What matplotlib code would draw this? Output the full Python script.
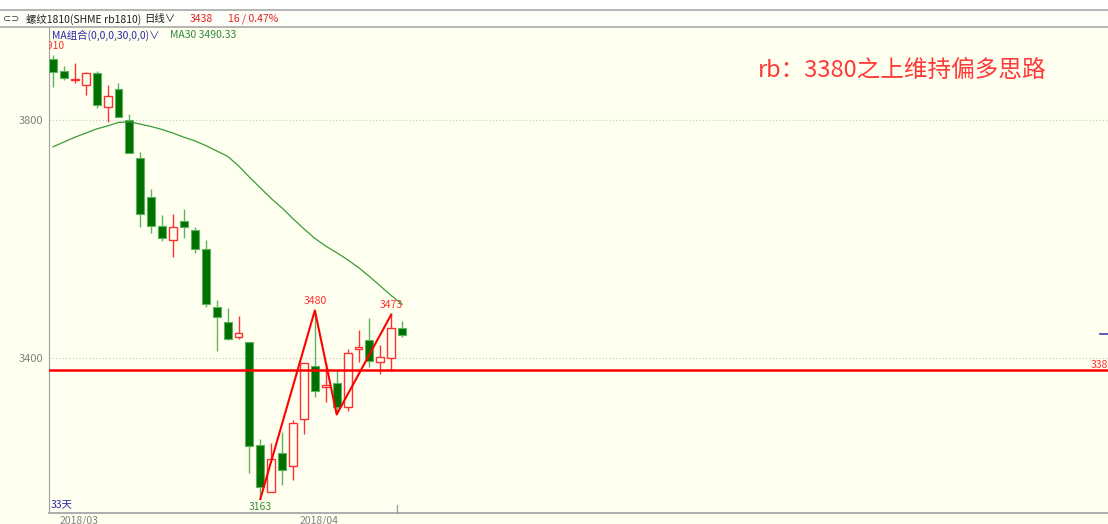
import numpy as np
import matplotlib.pyplot as plt
from matplotlib.patches import Rectangle
from matplotlib.lines import Line2D

# ─── DATA ────────────────────────────────────────────────────
opens  = [3902, 3882, 3867, 3859, 3879, 3822, 3852, 3800, 3736, 3671, 3622,
          3598, 3630, 3615, 3583, 3486, 3460, 3435, 3427, 3254, 3175, 3240,
          3218, 3297, 3386, 3351, 3358, 3318, 3415, 3430, 3393, 3400, 3450]
closes = [3881, 3871, 3869, 3879, 3825, 3840, 3805, 3744, 3642, 3622, 3602,
          3620, 3620, 3583, 3491, 3469, 3432, 3442, 3252, 3183, 3230, 3212,
          3291, 3392, 3344, 3355, 3318, 3408, 3418, 3395, 3402, 3450, 3438]
highs  = [3910, 3891, 3896, 3880, 3882, 3859, 3862, 3810, 3746, 3684, 3640,
          3642, 3650, 3620, 3598, 3497, 3484, 3471, 3427, 3264, 3257, 3276,
          3296, 3392, 3480, 3392, 3380, 3415, 3447, 3467, 3422, 3473, 3462]
lows   = [3856, 3867, 3862, 3842, 3820, 3797, 3805, 3744, 3620, 3610, 3597,
          3570, 3602, 3576, 3486, 3412, 3430, 3432, 3207, 3163, 3175, 3187,
          3195, 3272, 3334, 3326, 3310, 3311, 3393, 3385, 3373, 3378, 3435]
ma30   = [3755, 3763, 3771, 3778, 3785, 3790, 3796, 3797, 3793, 3789, 3784,
          3778, 3771, 3765, 3757, 3748, 3739, 3723, 3704, 3686, 3668, 3652,
          3634, 3617, 3601, 3588, 3577, 3565, 3552, 3537, 3521, 3505, 3490.33]

zz_idx = [19, 24, 26, 31]
zz_val = [3163, 3480, 3305, 3473]

support = 3380
y_ticks = [3400, 3800]

# ─── STYLE ───────────────────────────────────────────────────
plt.rcParams['font.family'] = ['Noto Sans CJK SC', 'DejaVu Sans']

W, H = 1108, 524
BG = '#FFFFF0'
UP = '#FF3030'
DN_FACE = '#007000'
DN_EDGE = '#5DB35D'
GRID = '#C8C8C8'

def fx(x):
    return x / W

def fy(y):
    return 1 - y / H

fig = plt.figure(figsize=(W / 100, H / 100), dpi=100)
fig.patch.set_facecolor(BG)

# header bands
fig.patches.append(Rectangle((0, fy(10)), 1, 1 - fy(10), transform=fig.transFigure,
                             facecolor='white', edgecolor='none', zorder=0))
fig.patches.append(Rectangle((0, fy(27)), 1, fy(10) - fy(27), transform=fig.transFigure,
                             facecolor='#FEFEF8', edgecolor='none', zorder=0))
for yy in (10, 27):
    fig.add_artist(Line2D([0, 1], [fy(yy), fy(yy)], transform=fig.transFigure,
                          color='#A8A8A8', lw=1.2))

ax = fig.add_axes([fx(49), fy(513), 1 - fx(49), fy(27) - fy(513)])
ax.set_facecolor(BG)

x = np.arange(len(opens))
o = np.array(opens); c = np.array(closes)
hi = np.array(highs); lo = np.array(lows)
up = c >= o

# wicks
ax.vlines(x[up], lo[up], hi[up], color=UP, lw=1, zorder=2)
ax.vlines(x[~up], lo[~up], hi[~up], color=DN_EDGE, lw=1, zorder=2)
# bodies
bw = 0.72
ax.bar(x[up], np.maximum(c[up] - o[up], 1.5), bottom=o[up], width=bw,
       facecolor=BG, edgecolor=UP, lw=1, zorder=3)
ax.bar(x[~up], o[~up] - c[~up], bottom=c[~up], width=bw,
       facecolor=DN_FACE, edgecolor=DN_EDGE, lw=0.8, zorder=3)

# MA30
ax.plot(x, ma30, color='#3A9A3A', lw=0.9, zorder=4)

# zigzag
ax.plot(zz_idx, zz_val, color='#FF0000', lw=1.5, zorder=5)

# support line
ax.axhline(support, color='#FF0000', lw=1.8, zorder=4)

# grid lines at ticks
for t in y_ticks:
    ax.axhline(t, color=GRID, lw=0.8, ls=(0, (1, 2)), zorder=1)

# annotations on highs/lows
ax.text(0, hi[0] + 14, f'{highs[0]}', color=UP, fontsize=7.5, ha='center', va='center', clip_on=True)
ax.text(24, 3480 + 7, '3480', color=UP, fontsize=7.5, ha='center', va='bottom')
ax.text(31, 3473 + 7, '3473', color=UP, fontsize=7.5, ha='center', va='bottom')
ax.text(19, 3163 - 5, '3163', color='#3A8A3A', fontsize=7.5, ha='center', va='top')

ax.set_xlim(-0.37, 96.7)
ax.set_ylim(3139.5, 3956.3)
ax.set_yticks(y_ticks)
ax.set_yticklabels([str(t) for t in y_ticks], color='#808080', fontsize=8)
ax.tick_params(axis='y', length=0, pad=4)
ax.set_xticks([])
for s in ('top', 'right'):
    ax.spines[s].set_visible(False)
ax.spines['left'].set_color('#A0A0A0')
ax.spines['bottom'].set_color('#A0A0A0')
ax.spines['bottom'].set_linewidth(1.2)

# right price marker and clipped label
fig.add_artist(Line2D([fx(1100), 1], [fy(334), fy(334)], transform=fig.transFigure,
                      color='#4040B0', lw=1.2))
fig.text(fx(1091), fy(365), str(support), color=UP, fontsize=7.5, va='center', ha='left')
fig.add_artist(Line2D([fx(397), fx(397)], [fy(505), fy(513)], transform=fig.transFigure,
                      color='#A0A0A0', lw=1))

# header texts
fig.text(fx(3), fy(19), '⊂⊃', fontsize=7, color='#404040', va='center', family='DejaVu Sans')
fig.text(fx(26), fy(19), '螺纹1810(SHME rb1810)', fontsize=7.5, color='#202020', va='center')
fig.text(fx(144), fy(19), '日线∨', fontsize=7.5, color='#202020', va='center')
fig.text(fx(190), fy(19), '3438', fontsize=7.5, color='#E02020', va='center')
fig.text(fx(228), fy(19), '16 / 0.47%', fontsize=7.5, color='#E02020', va='center')

fig.text(fx(52), fy(35), 'MA组合(0,0,0,30,0,0)∨', fontsize=7.5, color='#2828A8', va='center')
fig.text(fx(170), fy(35), 'MA30 3490.33', fontsize=7.5, color='#2E8B3E', va='center')

fig.text(fx(51), fy(504), '33天', fontsize=7.5, color='#2828A8', va='center')

fig.text(fx(758), fy(70), 'rb：3380之上维持偏多思路', fontsize=17, color='#FF3838', va='center')

# date labels (partly cut off at bottom)
fig.text(fx(60), fy(521), '2018/03', fontsize=7.5, color='#808080', va='center')
fig.text(fx(300), fy(521), '2018/04', fontsize=7.5, color='#808080', va='center')

fig.savefig('out.png', dpi=100, facecolor=fig.get_facecolor())
